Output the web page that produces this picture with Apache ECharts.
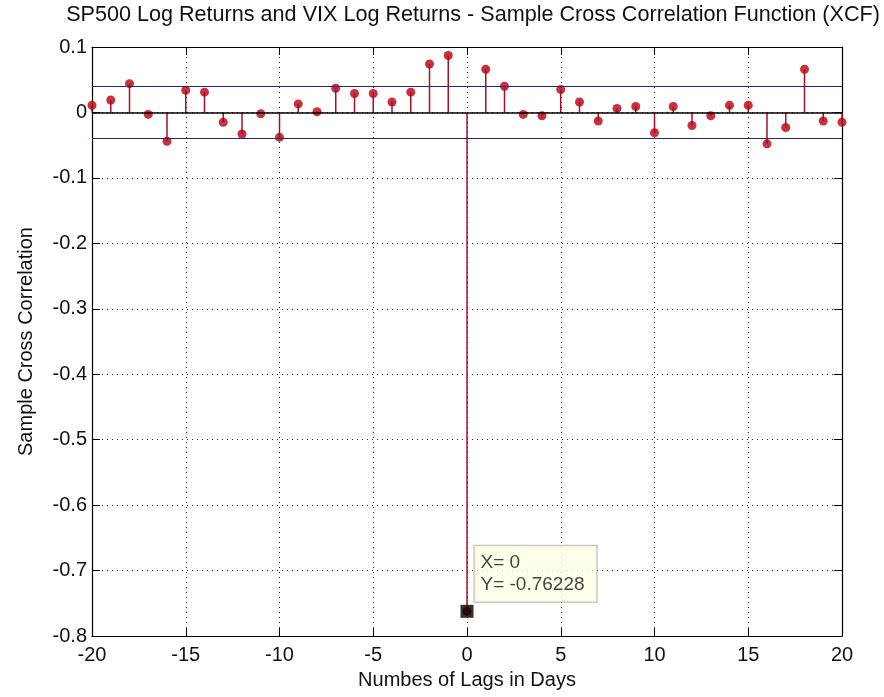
<!DOCTYPE html>
<html>
<head>
<meta charset="utf-8">
<script src="https://cdn.jsdelivr.net/npm/echarts@6/dist/echarts.min.js"></script>
<style>
  html, body { margin: 0; padding: 0; background: #fff; }
  #chart { width: 884px; height: 697px; }
</style>
</head>
<body>
<div id="chart"></div>
<script>
// lags in days and the sample cross correlation at each lag
var lags = [-20, -19, -18, -17, -16, -15, -14, -13, -12, -11, -10, -9, -8, -7, -6, -5, -4, -3, -2, -1,
            0, 1, 2, 3, 4, 5, 6, 7, 8, 9, 10, 11, 12, 13, 14, 15, 16, 17, 18, 19, 20];
var xcf = [0.011, 0.019, 0.044, -0.003, -0.044, 0.034, 0.031, -0.015, -0.033, -0.002,
           -0.038, 0.013, 0.001, 0.037, 0.029, 0.029, 0.016, 0.031, 0.074, 0.087,
           -0.76228,
           0.066, 0.040, -0.003, -0.005, 0.035, 0.016, -0.013, 0.006, 0.009, -0.031,
           0.009, -0.020, -0.005, 0.011, 0.011, -0.048, -0.023, 0.066, -0.013, -0.015];
// approximate 95% confidence bounds
var bounds = [0.035, -0.035];
// data tip on the lag 0 value
var tipPoint = [0, -0.76228];

var FONT = "'Liberation Sans', Arial, sans-serif";

var chart = echarts.init(document.getElementById('chart'));

var points = [];
for (var i = 0; i < lags.length; i++) {
  points.push([lags[i], xcf[i]]);
}

function renderStem(params, api) {
  var p0 = api.coord([api.value(0), 0]);
  var p1 = api.coord([api.value(0), api.value(1)]);
  return {
    type: 'line',
    shape: { x1: p0[0], y1: p0[1], x2: p1[0], y2: p1[1] },
    style: { stroke: '#a8102a', lineWidth: 1.5 }
  };
}

var option = {
  animation: false,
  backgroundColor: '#fff',
  title: {
    text: 'SP500 Log Returns and VIX Log Returns - Sample Cross Correlation Function (XCF)',
    left: 468,
    textAlign: 'center',
    top: -1,
    textStyle: { fontFamily: FONT, fontSize: 21.6, fontWeight: 'normal', color: '#111' }
  },
  grid: { left: 92, right: 42, top: 47, bottom: 61 },
  xAxis: [{
    type: 'value',
    min: -20, max: 20, interval: 5,
    name: 'Numbes of Lags in Days',
    nameLocation: 'middle',
    nameGap: 34,
    nameTextStyle: { fontFamily: FONT, fontSize: 20, color: '#111' },
    axisLine: { onZero: false, lineStyle: { color: '#000', width: 1.2 } },
    axisTick: { inside: true, length: 8, lineStyle: { color: '#000' } },
    axisLabel: { fontFamily: FONT, fontSize: 20, color: '#111', margin: 9 },
    splitLine: { show: true, lineStyle: { color: '#222', type: [1, 4], width: 1 } }
  }, {
    type: 'value', position: 'top',
    min: -20, max: 20, interval: 5,
    axisLine: { onZero: false, lineStyle: { color: '#000', width: 1.2 } },
    axisTick: { inside: true, length: 8, lineStyle: { color: '#000' } },
    axisLabel: { show: false },
    splitLine: { show: false }
  }],
  yAxis: [{
    type: 'value',
    min: -0.8, max: 0.1, interval: 0.1,
    name: 'Sample Cross Correlation',
    nameLocation: 'middle',
    nameGap: 56,
    nameTextStyle: { fontFamily: FONT, fontSize: 20, color: '#111' },
    axisLine: { onZero: false, lineStyle: { color: '#000', width: 1.2 } },
    axisTick: { inside: true, length: 8, lineStyle: { color: '#000' } },
    axisLabel: {
      fontFamily: FONT, fontSize: 20, color: '#111', margin: 5,
      formatter: function (v) { return String(+v.toFixed(1)); }
    },
    splitLine: { show: true, lineStyle: { color: '#222', type: [1, 4], width: 1 } }
  }, {
    type: 'value', position: 'right',
    min: -0.8, max: 0.1, interval: 0.1,
    axisLine: { onZero: false, lineStyle: { color: '#000', width: 1.2 } },
    axisTick: { inside: true, length: 8, lineStyle: { color: '#000' } },
    axisLabel: { show: false },
    splitLine: { show: false }
  }],
  series: [{
    name: 'stems',
    type: 'custom',
    renderItem: renderStem,
    data: points,
    z: 3,
    markLine: {
      silent: true,
      symbol: 'none',
      label: { show: false },
      data: [
        { yAxis: 0, lineStyle: { color: '#000', width: 1.5, type: 'solid' } },
        { yAxis: bounds[0], lineStyle: { color: '#262673', width: 1.2, type: 'solid' } },
        { yAxis: bounds[1], lineStyle: { color: '#262673', width: 1.2, type: 'solid' } }
      ]
    }
  }, {
    name: 'markers',
    type: 'scatter',
    data: points,
    symbol: 'circle',
    symbolSize: 9,
    itemStyle: { color: '#b8000f' },
    z: 4
  }, {
    name: 'datatip',
    type: 'scatter',
    data: [tipPoint],
    symbol: 'rect',
    symbolSize: 13,
    itemStyle: { color: '#000' },
    z: 6,
    label: {
      show: true,
      position: [14, -3],
      align: 'left',
      verticalAlign: 'bottom',
      fontFamily: FONT,
      fontSize: 19,
      lineHeight: 22,
      color: '#111',
      backgroundColor: '#ffffe6',
      borderColor: '#a8a8a0',
      borderWidth: 1,
      padding: [6, 12, 6, 6],
      formatter: function (p) {
        return 'X= ' + p.value[0] + '\nY= ' + p.value[1];
      }
    }
  }]
};

chart.setOption(option);
</script>
</body>
</html>
